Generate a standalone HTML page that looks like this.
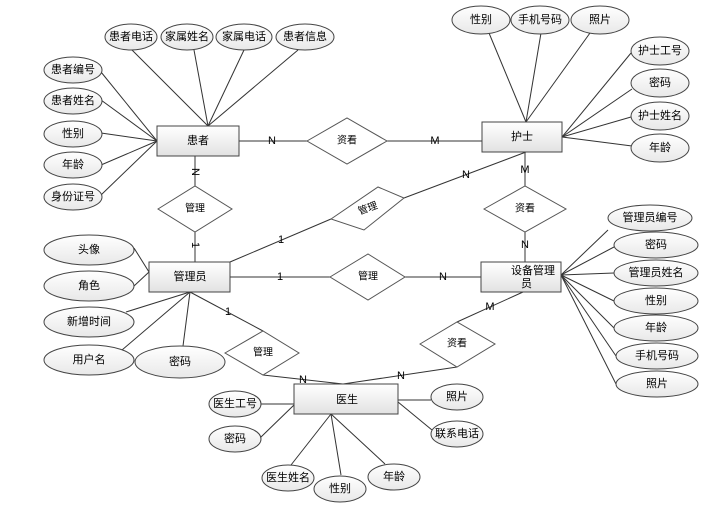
<!DOCTYPE html>
<html><head><meta charset="utf-8"><style>
body{margin:0;background:#fff}
svg{display:block}
text{font-family:"Liberation Sans","Noto Sans CJK SC",sans-serif;font-size:11px;text-anchor:middle;dominant-baseline:central;fill:#000}
.l{stroke:#333;stroke-width:1;fill:none}
.e{fill:url(#g);stroke:#444;stroke-width:1}
.d{fill:#fff;stroke:#555;stroke-width:1}
.r{fill:url(#g2);stroke:#444;stroke-width:1}
.c{font-size:10px}
</style></head><body>
<svg width="728" height="505" viewBox="0 0 728 505">
<defs>
<linearGradient id="g" x1="0" y1="0" x2="0" y2="1"><stop offset="0" stop-color="#fff"/><stop offset="1" stop-color="#e8e8e8"/></linearGradient>
<linearGradient id="g2" x1="0" y1="0" x2="0" y2="1"><stop offset="0" stop-color="#fff"/><stop offset="1" stop-color="#e2e2e2"/></linearGradient>
</defs>
<g class="l">
<!-- patient attrs -->
<line x1="131" y1="49" x2="208" y2="126"/><line x1="194" y1="50" x2="208" y2="126"/><line x1="244" y1="50" x2="208" y2="126"/><line x1="298" y1="50" x2="208" y2="126"/>
<line x1="101" y1="72" x2="157" y2="141"/><line x1="101" y1="100" x2="157" y2="141"/><line x1="101" y1="133" x2="157" y2="141"/><line x1="101" y1="165" x2="157" y2="141"/><line x1="101" y1="195" x2="157" y2="141"/>
<!-- nurse attrs -->
<line x1="489" y1="33" x2="526" y2="122"/><line x1="541" y1="33" x2="526" y2="122"/><line x1="590" y1="33" x2="526" y2="122"/>
<line x1="631" y1="53" x2="562" y2="137"/><line x1="632" y1="89" x2="562" y2="137"/><line x1="631" y1="117" x2="562" y2="137"/><line x1="632" y1="146" x2="562" y2="137"/>
<!-- admin attrs -->
<line x1="134" y1="248" x2="149" y2="272"/><line x1="134" y1="286" x2="149" y2="272"/><line x1="126" y1="312" x2="190" y2="292"/><line x1="122" y1="350" x2="190" y2="292"/><line x1="183" y1="346" x2="190" y2="292"/>
<!-- device attrs -->
<line x1="608" y1="230" x2="561" y2="275"/><line x1="614" y1="247" x2="561" y2="275"/><line x1="614" y1="273" x2="561" y2="275"/><line x1="614" y1="301" x2="561" y2="275"/><line x1="614" y1="328" x2="561" y2="275"/><line x1="616" y1="356" x2="561" y2="275"/><line x1="616" y1="384" x2="561" y2="275"/>
<!-- doctor attrs -->
<line x1="261" y1="404" x2="294" y2="404"/><line x1="261" y1="437" x2="294" y2="405"/>
<line x1="291" y1="465" x2="331" y2="414"/><line x1="341" y1="475" x2="331" y2="414"/><line x1="385" y1="464" x2="331" y2="414"/>
<line x1="431" y1="400" x2="398" y2="400"/><line x1="432" y1="430" x2="398" y2="402"/>
<!-- relations -->
<line x1="239" y1="141" x2="307" y2="141"/><line x1="387" y1="141" x2="482" y2="141"/>
<line x1="195" y1="156" x2="195" y2="186"/><line x1="195" y1="232" x2="195" y2="262"/>
<line x1="230" y1="262" x2="331" y2="219"/><line x1="404" y1="198" x2="526" y2="152"/>
<line x1="525" y1="152" x2="525" y2="186"/><line x1="525" y1="232" x2="525" y2="262"/>
<line x1="230" y1="277" x2="330" y2="277"/><line x1="405" y1="277" x2="481" y2="277"/>
<line x1="190" y1="292" x2="263" y2="331"/><line x1="263" y1="375" x2="343" y2="384"/>
<line x1="523" y1="292" x2="457" y2="322"/><line x1="457" y1="367" x2="343" y2="384"/>
</g>
<!-- diamonds -->
<polygon class="d" points="307,141 347,118 387,141 347,164"/>
<polygon class="d" points="158,209 195,186 232,209 195,232"/>
<polygon class="d" points="331,219 378,187 404,198 364,230"/>
<polygon class="d" points="330,277 368,254 405,277 368,300"/>
<polygon class="d" points="484,209 525,186 566,209 525,232"/>
<polygon class="d" points="225,353 263,331 299,353 263,375"/>
<polygon class="d" points="420,344 457,322 495,344 457,367"/>
<text x="347" y="141" class="c">资看</text><text x="195" y="209" class="c">管理</text>
<text x="368" y="209" class="c" fill="#888" transform="rotate(-20 368 209)">管理</text>
<text x="368" y="277" class="c">管理</text><text x="525" y="209" class="c">资看</text>
<text x="263" y="353" class="c">管理</text><text x="457" y="344" class="c">资看</text>
<!-- cardinalities -->
<g class="c">
<text x="272" y="141">N</text><text x="435" y="141">M</text>
<text x="195" y="172" transform="rotate(90 195 172)">N</text><text x="195" y="245" transform="rotate(90 195 245)">1</text>
<text x="466" y="175">N</text><text x="281" y="240">1</text>
<text x="525" y="170">M</text><text x="525" y="245">N</text>
<text x="280" y="277">1</text><text x="443" y="277">N</text>
<text x="228" y="312">1</text><text x="303" y="380">N</text>
<text x="490" y="307">M</text><text x="401" y="376">N</text>
</g>
<!-- entities -->
<rect class="r" x="157" y="126" width="82" height="30"/><text x="198" y="141">患者</text>
<rect class="r" x="482" y="122" width="80" height="30"/><text x="522" y="137">护士</text>
<rect class="r" x="149" y="262" width="81" height="30"/><text x="190" y="277">管理员</text>
<rect class="r" x="481" y="262" width="80" height="30"/><text x="533" y="271">设备管理</text><text x="521" y="284" style="text-anchor:start">员</text>
<rect class="r" x="294" y="384" width="104" height="30"/><text x="347" y="400">医生</text>
<!-- ellipses -->
<g>
<ellipse class="e" cx="131" cy="37" rx="26" ry="13"/><text x="131" y="37">患者电话</text>
<ellipse class="e" cx="187" cy="37" rx="26" ry="13"/><text x="187" y="37">家属姓名</text>
<ellipse class="e" cx="244" cy="37" rx="28" ry="13"/><text x="244" y="37">家属电话</text>
<ellipse class="e" cx="305" cy="37" rx="29" ry="13"/><text x="305" y="37">患者信息</text>
<ellipse class="e" cx="73" cy="70" rx="29" ry="13"/><text x="73" y="70">患者编号</text>
<ellipse class="e" cx="73" cy="101" rx="29" ry="13"/><text x="73" y="101">患者姓名</text>
<ellipse class="e" cx="73" cy="134" rx="29" ry="13"/><text x="73" y="134">性别</text>
<ellipse class="e" cx="73" cy="165" rx="29" ry="13"/><text x="73" y="165">年龄</text>
<ellipse class="e" cx="73" cy="197" rx="29" ry="13"/><text x="73" y="197">身份证号</text>
<ellipse class="e" cx="481" cy="20" rx="29" ry="14"/><text x="481" y="20">性别</text>
<ellipse class="e" cx="540" cy="20" rx="29" ry="14"/><text x="540" y="20">手机号码</text>
<ellipse class="e" cx="600" cy="20" rx="29" ry="14"/><text x="600" y="20">照片</text>
<ellipse class="e" cx="660" cy="51" rx="29" ry="14"/><text x="660" y="51">护士工号</text>
<ellipse class="e" cx="660" cy="83" rx="29" ry="14"/><text x="660" y="83">密码</text>
<ellipse class="e" cx="660" cy="116" rx="29" ry="14"/><text x="660" y="116">护士姓名</text>
<ellipse class="e" cx="660" cy="148" rx="29" ry="14"/><text x="660" y="148">年龄</text>
<ellipse class="e" cx="89" cy="250" rx="45" ry="15"/><text x="89" y="250">头像</text>
<ellipse class="e" cx="89" cy="286" rx="45" ry="15"/><text x="89" y="286">角色</text>
<ellipse class="e" cx="89" cy="322" rx="45" ry="15"/><text x="89" y="322">新增时间</text>
<ellipse class="e" cx="89" cy="360" rx="45" ry="15"/><text x="89" y="360">用户名</text>
<ellipse class="e" cx="180" cy="362" rx="45" ry="16"/><text x="180" y="362">密码</text>
<ellipse class="e" cx="650" cy="218" rx="42" ry="13"/><text x="650" y="218">管理员编号</text>
<ellipse class="e" cx="656" cy="245" rx="42" ry="13"/><text x="656" y="245">密码</text>
<ellipse class="e" cx="656" cy="273" rx="42" ry="13"/><text x="656" y="273">管理员姓名</text>
<ellipse class="e" cx="656" cy="301" rx="42" ry="13"/><text x="656" y="301">性别</text>
<ellipse class="e" cx="656" cy="328" rx="42" ry="13"/><text x="656" y="328">年龄</text>
<ellipse class="e" cx="657" cy="356" rx="41" ry="13"/><text x="657" y="356">手机号码</text>
<ellipse class="e" cx="657" cy="384" rx="41" ry="13"/><text x="657" y="384">照片</text>
<ellipse class="e" cx="235" cy="404" rx="26" ry="13"/><text x="235" y="404">医生工号</text>
<ellipse class="e" cx="235" cy="439" rx="26" ry="13"/><text x="235" y="439">密码</text>
<ellipse class="e" cx="457" cy="397" rx="26" ry="13"/><text x="457" y="397">照片</text>
<ellipse class="e" cx="457" cy="434" rx="26" ry="13"/><text x="457" y="434">联系电话</text>
<ellipse class="e" cx="288" cy="478" rx="26" ry="13"/><text x="288" y="478">医生姓名</text>
<ellipse class="e" cx="340" cy="489" rx="26" ry="13"/><text x="340" y="489">性别</text>
<ellipse class="e" cx="394" cy="477" rx="26" ry="13"/><text x="394" y="477">年龄</text>
</g>
</svg>
</body></html>
